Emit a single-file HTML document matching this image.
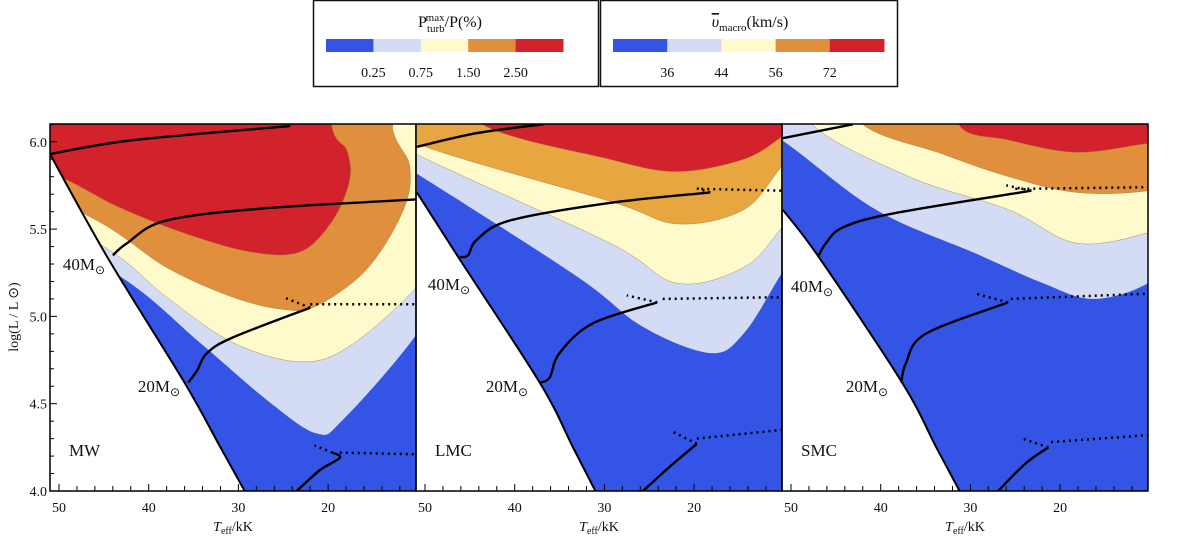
<!DOCTYPE html>
<html><head><meta charset="utf-8"><style>
body{margin:0;background:#fff;width:1200px;height:549px;overflow:hidden;font-family:"Liberation Serif",serif}
svg text{font-family:"Liberation Serif",serif;fill:#111}
</style></head><body>
<svg id="chart" width="1200" height="549" viewBox="0 0 1200 549" xmlns="http://www.w3.org/2000/svg">
<g id="legend">
 <rect x="313.5" y="0.5" width="285" height="86" fill="#fff" stroke="#111" stroke-width="1.5"/>
 <rect x="600.5" y="0.5" width="297" height="86" fill="#fff" stroke="#111" stroke-width="1.5"/>
 <text x="450" y="27" font-size="16" text-anchor="middle">P<tspan font-size="11" dy="5">turb</tspan><tspan font-size="11" dx="-19" dy="-11">max</tspan><tspan dy="6">/P(%)</tspan></text>
 <text x="750" y="27" font-size="16" text-anchor="middle"><tspan font-style="italic" text-decoration="overline">υ</tspan><tspan font-size="11" dy="4">macro</tspan><tspan dy="-4">(km/s)</tspan></text>
</g>
<g id="panels"></g>
<text transform="translate(18,317) rotate(-90)" font-size="14" text-anchor="middle">log(L / L ⊙)</text>
</svg>
<script>
const legendColors=["#3354e4","#d3dcf4","#fefacb","#e0903c","#d2232c"];
const pturbTicks=["0.25","0.75","1.50","2.50"];
const vmacroTicks=["36","44","56","72"];
const panelNames=["MW","LMC","SMC"];
const xTicksMajor=[50,40,30,20];
const yTicksMajor=[4.0,4.5,5.0,5.5,6.0];
// ZAMS lines [Teff kK, logL]
const zamsMW=[[51,5.93],[44.5,5.33],[36,4.62],[32,4.25],[29.3,4.0]];
const zamsLMC=[[50.9,5.71],[46.3,5.34],[37.2,4.62],[33.5,4.25],[31.0,4.0]];
const zamsSMC=[[50.9,5.61],[46.9,5.34],[37.6,4.62],[33.8,4.25],[31.2,4.0]];
// contour boundaries (lower edge of each level region)
const mwLight=[[60,5.7],[43.5,5.24],[34.3,4.85],[26.8,4.52],[21.3,4.33],[18.3,4.41],[10.1,4.9],[6,5.3],[6,6.5],[60,6.5]];
const mwYellow=[[60,5.8],[45,5.4],[38,5.11],[30.6,4.85],[23.1,4.74],[17.6,4.83],[10.1,5.17],[6,5.5],[6,6.5],[60,6.5]];
const mwOrange=[[60,5.9],[45.8,5.55],[38,5.28],[30.6,5.11],[25,5.04],[21.3,5.06],[15.7,5.27],[11.6,5.61],[10.9,5.86],[12.8,6.07],[13.9,6.5],[60,6.5]];
const mwRed=[[60,6.5],[60,5.9],[51,5.82],[43.5,5.63],[36.2,5.48],[28.7,5.37],[23.1,5.37],[19.5,5.55],[17.6,5.78],[17.9,5.95],[19.5,6.07],[21,6.5]];
const lmcLight=[[60,6.1],[51,5.82],[33.1,5.23],[25.7,4.94],[18.2,4.79],[14.5,4.9],[10.2,5.25],[6,5.6],[6,6.5],[60,6.5]];
const lmcYellow=[[60,6.2],[51,5.93],[29.4,5.42],[21.9,5.19],[14.5,5.28],[10.2,5.51],[6,5.8],[6,6.5],[60,6.5]];
const lmcOrange=[[60,6.25],[51,5.99],[29.4,5.66],[21.9,5.53],[14.5,5.61],[10.2,5.86],[6,6.1],[6,6.5],[60,6.5]];
const lmcRed=[[44.2,6.5],[44.2,6.12],[29.4,5.9],[21.9,5.83],[14.5,5.9],[10.2,6.03],[6,6.2],[6,6.5]];
const smcLight=[[60,6.3],[51,6.01],[40.5,5.61],[29.4,5.36],[21.9,5.19],[16.3,5.1],[10.2,5.19],[6,5.4],[6,6.5],[60,6.5]];
const smcYellow=[[48,6.5],[48,6.12],[36.8,5.8],[25.7,5.61],[18.2,5.42],[10.2,5.48],[6,5.6],[6,6.5]];
const smcOrange=[[42.4,6.5],[42.4,6.12],[33.1,5.93],[25.7,5.8],[18.2,5.71],[10.2,5.72],[6,5.8],[6,6.5]];
const smcRed=[[31.3,6.5],[31.3,6.1],[25.7,6.01],[18.2,5.94],[10.2,5.99],[6,6.0],[6,6.5]];
// evolutionary tracks: solid parts and dotted parts
const mwSolid=[[[51,5.93],[41.7,6.01],[24.2,6.09]],[[44,5.35],[42.4,5.42],[38,5.55],[26.8,5.62],[10.1,5.67]],[[35.6,4.62],[34.6,4.69],[33.5,4.79],[30.6,4.88],[22,5.05]],[[23.5,4.0],[20.9,4.12],[18.7,4.19],[19.5,4.22]]];
const mwDotted=[[[22,5.05],[25,5.11]],[[22,5.07],[10.1,5.07]],[[19.5,4.22],[21.5,4.26]],[[18.7,4.22],[10.1,4.21]]];
const lmcSolid=[[[51,5.97],[44.2,6.05],[36.8,6.1]],[[46.1,5.34],[45.2,5.35],[44.2,5.44],[40.5,5.55],[29.4,5.65],[18.2,5.71]],[[37.2,4.62],[36.1,4.65],[35,4.79],[31.3,4.96],[24.1,5.08]],[[25.7,4.0],[22.7,4.14],[19.7,4.27]]];
const lmcDotted=[[[18.2,5.71],[20.1,5.74]],[[19.2,5.73],[10.2,5.72]],[[24.1,5.08],[27.5,5.12]],[[23.5,5.1],[10.2,5.11]],[[19.7,4.27],[22.4,4.34]],[[19.7,4.3],[10.2,4.35]]];
const smcSolid=[[[51,6.02],[43.1,6.1]],[[47,5.34],[46.1,5.42],[44.2,5.51],[38.6,5.59],[23.2,5.72]],[[37.7,4.62],[37.2,4.73],[35,4.9],[25.8,5.08]],[[26.9,4.0],[23.8,4.16],[21.3,4.25]]];
const smcDotted=[[[23.2,5.72],[26,5.75]],[[25,5.73],[10.2,5.74]],[[25.8,5.08],[29.4,5.13]],[[25.5,5.1],[10.2,5.13]],[[21.3,4.25],[24.2,4.3]],[[21,4.28],[10.2,4.32]]];
const massLabels=["40M","20M"];

const NS="http://www.w3.org/2000/svg";
const svg=document.getElementById('chart');
const legend=document.getElementById('legend');
const panelsG=document.getElementById('panels');
function mk(tag,attrs,parent){const e=document.createElementNS(NS,tag);for(const k in attrs)e.setAttribute(k,attrs[k]);parent.appendChild(e);return e;}
function smooth(P,close){
  if(P.length<3){return 'M'+P.map(p=>p[0].toFixed(1)+','+p[1].toFixed(1)).join(' L')+(close?'Z':'');}
  let d='M'+P[0][0].toFixed(1)+','+P[0][1].toFixed(1);
  for(let i=0;i<P.length-1;i++){
    const p0=P[Math.max(i-1,0)],p1=P[i],p2=P[i+1],p3=P[Math.min(i+2,P.length-1)];
    const c1=[p1[0]+(p2[0]-p0[0])/6,p1[1]+(p2[1]-p0[1])/6];
    const c2=[p2[0]-(p3[0]-p1[0])/6,p2[1]-(p3[1]-p1[1])/6];
    d+=' C'+c1[0].toFixed(1)+','+c1[1].toFixed(1)+' '+c2[0].toFixed(1)+','+c2[1].toFixed(1)+' '+p2[0].toFixed(1)+','+p2[1].toFixed(1);
  }
  return d+(close?'Z':'');
}

function drawBar(x0,w,ticks,name){
  const sw=w/legendColors.length;
  legendColors.forEach((c,i)=>{
    const r=mk('rect',{x:x0+i*sw,y:39,width:sw+0.5,height:13,fill:c},legend);
    
    
  });
  ticks.forEach((t,i)=>{
    const tx=mk('text',{x:x0+(i+1)*sw,y:77,'font-size':14,'text-anchor':'middle'},legend);
    tx.textContent=t;
    
    
  });
}
drawBar(326,237,pturbTicks,'pturb');
drawBar(613,271,vmacroTicks,'vmacro');

const PW=366,TOP=124,BOT=491,LMIN=4.0,LSCALE=174.6;
const panelData=[
 {zams:zamsMW,levels:[mwLight,mwYellow,mwOrange,mwRed],orange:"#e0903c",solid:mwSolid,dotted:mwDotted,m40:[105,270],m20:[180,392]},
 {zams:zamsLMC,levels:[lmcLight,lmcYellow,lmcOrange,lmcRed],orange:"#e8a640",solid:lmcSolid,dotted:lmcDotted,m40:[470,290],m20:[528,392]},
 {zams:zamsSMC,levels:[smcLight,smcYellow,smcOrange,smcRed],orange:"#e0903c",solid:smcSolid,dotted:smcDotted,m40:[833,292],m20:[888,392]}
];
const defs=mk('defs',{},svg);
panelData.forEach((p,i)=>{
  const left=50+PW*i,right=left+PW;
  const X=T=>left+9+(50-T)*8.97;
  const Y=L=>BOT-(L-LMIN)*LSCALE;
  const px=a=>a.map(d=>[X(d[0]),Y(d[1])]);
  const g=mk('g',{},panelsG);
  
  
  const cp=mk('clipPath',{id:'clip'+i},defs);
  const zTop=p.zams[0];
  const zp=px(p.zams);
  mk('path',{d:smooth(zp,false).replace('M','M'+X(zTop[0]).toFixed(1)+','+(TOP-10)+' L')+' L'+right+','+BOT+' L'+right+','+(TOP-10)+'Z'},cp);
  const cr=mk('clipPath',{id:'frame'+i},defs);
  mk('rect',{x:left,y:TOP,width:PW,height:BOT-TOP},cr);
  const fg=mk('g',{'clip-path':'url(#frame'+i+')'},g);
  const cg=mk('g',{'clip-path':'url(#clip'+i+')'},fg);
  const bg=mk('rect',{x:left,y:TOP-10,width:PW,height:BOT-TOP+10,fill:legendColors[0]},cg);
  
  
  p.levels.forEach((lv,k)=>{
    const col=k===2?p.orange:legendColors[k+1];
    const poly=mk('path',{d:smooth(px(lv),true),fill:col,stroke:k>=1?'#8a7a50':'none','stroke-width':0.4},cg);
    
    
  });
  const zl=mk('path',{d:smooth(zp,false),fill:'none',stroke:'#000','stroke-width':2},fg);
  
  
  p.solid.forEach(tr=>{
    const l=mk('path',{d:smooth(px(tr),false),fill:'none',stroke:'#000','stroke-width':2.4,'stroke-linejoin':'round'},fg);
    
    
  });
  p.dotted.forEach(tr=>{
    const l=mk('path',{d:smooth(px(tr),false),fill:'none',stroke:'#000','stroke-width':2.5,'stroke-dasharray':'2 4'},fg);
    
    
  });
  const fr=mk('rect',{x:left,y:TOP,width:PW,height:BOT-TOP,fill:'none',stroke:'#000','stroke-width':1.5},g);
  
  
  for(let T=50;T>=12;T-=2){
    const major=T%10===0;
    mk('line',{x1:X(T),x2:X(T),y1:BOT,y2:BOT-(major?7:5),stroke:'#000','stroke-width':1},g);
  }
  xTicksMajor.forEach(T=>{
    const t=mk('text',{x:X(T),y:512,'font-size':14,'text-anchor':'middle'},g);
    t.textContent=T;
    
    
  });
  const xt=mk('text',{x:left+183,y:531,'font-size':14,'text-anchor':'middle'},g);
  xt.innerHTML='<tspan font-style="italic">T</tspan><tspan font-size="10" dy="3">eff</tspan><tspan dy="-3">/kK</tspan>';
  
  
  [p.m40,p.m20].forEach((m,k)=>{
    const t=mk('text',{x:m[0],y:m[1],'font-size':17,'text-anchor':'end'},g);
    t.innerHTML=massLabels[k]+'<tspan font-size="12" dy="4">⊙</tspan>';
    
    
  });
  const nl=mk('text',{x:left+19,y:456,'font-size':17},g);
  nl.textContent=panelNames[i];
  
  
  if(i===0){
    for(let L=4.0;L<=6.1;L+=0.1){
      const major=Math.abs(L*2-Math.round(L*2))<1e-6;
      mk('line',{x1:left,x2:left+(major?7:4),y1:Y(L),y2:Y(L),stroke:'#000','stroke-width':1},g);
    }
    yTicksMajor.forEach(L=>{
      const t=mk('text',{x:left-3,y:Y(L)+5,'font-size':14,'text-anchor':'end'},g);
      t.textContent=L.toFixed(1);
      
      
    });
  }
});
</script>
</body></html>
